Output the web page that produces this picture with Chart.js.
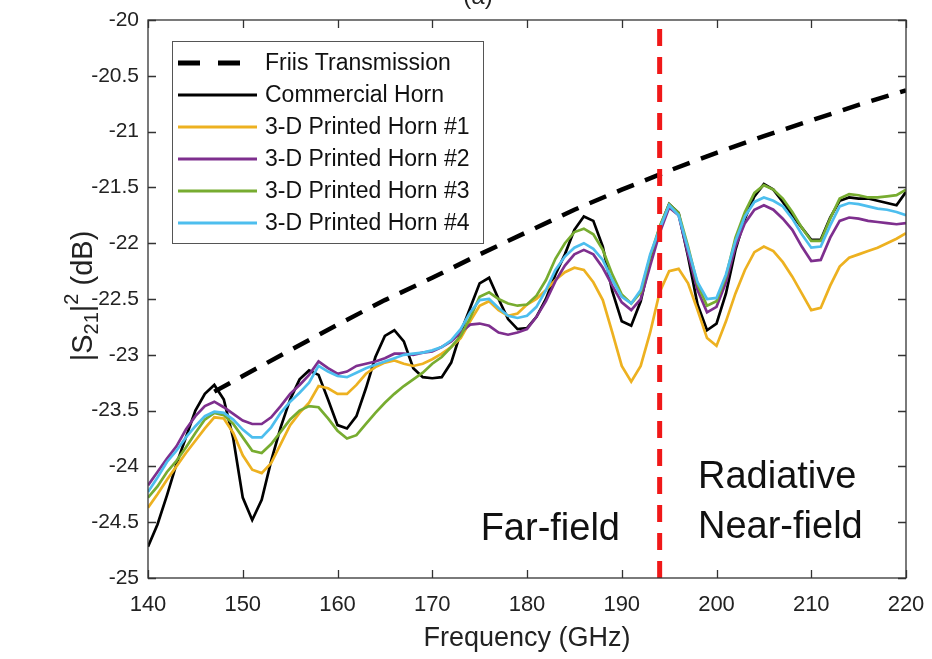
<!DOCTYPE html>
<html>
<head>
<meta charset="utf-8">
<script src="https://cdn.jsdelivr.net/npm/chart.js@4.4.1/dist/chart.umd.min.js"></script>
<style>
  html, body { margin: 0; padding: 0; background: #fff; }
  #wrap { position: relative; width: 932px; height: 659px; }
</style>
</head>
<body>
<div id="wrap"><canvas id="s21Chart"></canvas></div>
<script>
// Frequency grid (GHz) shared by the measured curves
const freqGHz = [140,141,142,143,144,145,146,147,148,149,150,151,152,153,154,155,156,157,158,159,
  160,161,162,163,164,165,166,167,168,169,170,171,172,173,174,175,176,177,178,179,
  180,181,182,183,184,185,186,187,188,189,190,191,192,193,194,195,196,197,198,199,
  200,201,202,203,204,205,206,207,208,209,210,211,212,213,214,215,216,217,218,219,220];

const commercialHorn = [-24.72,-24.52,-24.26,-23.98,-23.74,-23.50,-23.35,-23.27,-23.40,-23.75,
  -24.28,-24.48,-24.30,-23.95,-23.65,-23.40,-23.22,-23.14,-23.18,-23.40,
  -23.63,-23.66,-23.55,-23.30,-23.02,-22.83,-22.78,-22.88,-23.12,-23.20,
  -23.21,-23.20,-23.07,-22.80,-22.58,-22.36,-22.31,-22.50,-22.68,-22.77,
  -22.76,-22.66,-22.50,-22.28,-22.10,-21.88,-21.76,-21.80,-22.03,-22.43,
  -22.70,-22.74,-22.52,-22.15,-21.86,-21.65,-21.73,-22.12,-22.55,-22.78,
  -22.72,-22.45,-22.06,-21.78,-21.58,-21.47,-21.52,-21.63,-21.75,-21.86,
  -21.97,-21.97,-21.77,-21.62,-21.59,-21.60,-21.60,-21.62,-21.64,-21.66,-21.54];

const printedHorn1 = [-24.37,-24.25,-24.12,-24.00,-23.88,-23.77,-23.66,-23.56,-23.57,-23.70,
  -23.90,-24.03,-24.06,-23.97,-23.80,-23.63,-23.52,-23.43,-23.28,-23.30,
  -23.35,-23.35,-23.27,-23.17,-23.11,-23.07,-23.05,-23.08,-23.10,-23.08,
  -23.04,-22.99,-22.93,-22.85,-22.70,-22.56,-22.52,-22.60,-22.65,-22.63,
  -22.55,-22.50,-22.42,-22.33,-22.26,-22.22,-22.24,-22.35,-22.51,-22.80,
  -23.10,-23.24,-23.10,-22.80,-22.44,-22.25,-22.23,-22.36,-22.60,-22.85,
  -22.92,-22.70,-22.45,-22.24,-22.08,-22.03,-22.07,-22.17,-22.30,-22.45,
  -22.60,-22.58,-22.38,-22.21,-22.13,-22.10,-22.07,-22.04,-22.00,-21.96,-21.91];

const printedHorn2 = [-24.17,-24.05,-23.93,-23.82,-23.67,-23.55,-23.46,-23.42,-23.47,-23.53,
  -23.59,-23.62,-23.62,-23.56,-23.46,-23.35,-23.27,-23.18,-23.06,-23.12,
  -23.17,-23.15,-23.10,-23.08,-23.06,-23.03,-22.99,-22.99,-23.00,-22.98,
  -22.97,-22.93,-22.88,-22.80,-22.73,-22.72,-22.74,-22.80,-22.82,-22.80,
  -22.77,-22.66,-22.52,-22.34,-22.20,-22.10,-22.06,-22.10,-22.22,-22.38,
  -22.53,-22.60,-22.50,-22.20,-21.91,-21.68,-21.75,-22.10,-22.42,-22.62,
  -22.57,-22.35,-22.03,-21.82,-21.70,-21.66,-21.70,-21.78,-21.88,-22.03,
  -22.16,-22.15,-21.95,-21.80,-21.77,-21.78,-21.80,-21.81,-21.82,-21.83,-21.82];

const printedHorn3 = [-24.28,-24.18,-24.05,-23.95,-23.83,-23.70,-23.58,-23.52,-23.54,-23.62,
  -23.74,-23.86,-23.88,-23.80,-23.69,-23.58,-23.50,-23.46,-23.47,-23.57,
  -23.68,-23.75,-23.72,-23.62,-23.52,-23.43,-23.35,-23.28,-23.22,-23.16,
  -23.08,-23.02,-22.93,-22.83,-22.67,-22.48,-22.44,-22.50,-22.54,-22.56,
  -22.55,-22.47,-22.33,-22.14,-22.00,-21.90,-21.87,-21.92,-22.06,-22.28,
  -22.46,-22.54,-22.44,-22.12,-21.85,-21.65,-21.73,-22.03,-22.37,-22.56,
  -22.52,-22.30,-21.95,-21.72,-21.55,-21.48,-21.52,-21.60,-21.72,-21.86,
  -21.98,-21.98,-21.78,-21.60,-21.56,-21.57,-21.59,-21.59,-21.58,-21.57,-21.52];

const printedHorn4 = [-24.23,-24.10,-23.96,-23.86,-23.74,-23.64,-23.55,-23.51,-23.52,-23.58,
  -23.67,-23.74,-23.74,-23.65,-23.52,-23.42,-23.34,-23.25,-23.10,-23.15,
  -23.19,-23.20,-23.16,-23.12,-23.09,-23.06,-23.03,-23.00,-22.99,-22.98,
  -22.96,-22.93,-22.87,-22.77,-22.62,-22.51,-22.50,-22.58,-22.65,-22.67,
  -22.65,-22.57,-22.42,-22.24,-22.12,-22.04,-22.00,-22.05,-22.15,-22.33,
  -22.48,-22.54,-22.42,-22.10,-21.87,-21.66,-21.75,-22.05,-22.35,-22.50,
  -22.49,-22.28,-21.98,-21.76,-21.63,-21.59,-21.62,-21.67,-21.78,-21.92,
  -22.04,-22.03,-21.84,-21.67,-21.64,-21.65,-21.67,-21.69,-21.70,-21.72,-21.75];

// Friis prediction (dashed)
const friisFreq = [147,150,155,160,165,170,175,180,185,190,195,200,205,210,215,220];
const friisDb = [-23.33,-23.19,-22.96,-22.73,-22.51,-22.31,-22.10,-21.90,-21.70,-21.52,-21.35,-21.19,-21.04,-20.90,-20.76,-20.63];

// far-field / near-field boundary
const boundaryFreq = [194, 194];
const boundaryDb = [-25, -20];

const seriesNames = ["Friis Transmission", "Commercial Horn", "3-D Printed Horn #1",
  "3-D Printed Horn #2", "3-D Printed Horn #3", "3-D Printed Horn #4"];
const seriesColors = ["#000000", "#000000", "#EDB120", "#7E2F8E", "#77AC30", "#4DBEEE"];

const FONT = "'Liberation Sans', Arial, sans-serif";
const toPts = (xs, ys) => xs.map((x, i) => ({ x: x, y: ys[i] }));

// box, inward ticks on all four sides
const frameBox = {
  id: "frameBox",
  afterDraw(chart) {
    const { ctx, chartArea: a, scales: { x, y } } = chart;
    ctx.save();
    ctx.strokeStyle = "#333";
    ctx.lineWidth = 1.3;
    ctx.beginPath();
    x.ticks.forEach(t => {
      const px = Math.round(x.getPixelForValue(t.value)) + 0.5;
      ctx.moveTo(px, a.bottom); ctx.lineTo(px, a.bottom - 8);
      ctx.moveTo(px, a.top); ctx.lineTo(px, a.top + 8);
    });
    y.ticks.forEach(t => {
      const py = Math.round(y.getPixelForValue(t.value)) + 0.5;
      ctx.moveTo(a.left, py); ctx.lineTo(a.left + 8, py);
      ctx.moveTo(a.right, py); ctx.lineTo(a.right - 8, py);
    });
    ctx.stroke();
    ctx.strokeRect(a.left, a.top, a.right - a.left, a.bottom - a.top);
    ctx.restore();
  }
};

// legend box in the upper left, region labels, y title
const decorations = {
  id: "decorations",
  afterDraw(chart) {
    const { ctx } = chart;
    ctx.save();

    // legend
    ctx.fillStyle = "#fff";
    ctx.fillRect(172, 41, 311, 202);
    ctx.strokeStyle = "#555";
    ctx.lineWidth = 1;
    ctx.strokeRect(172.5, 41.5, 311, 202);
    ctx.font = "23px " + FONT;
    ctx.textBaseline = "middle";
    ctx.textAlign = "left";
    seriesNames.forEach((name, i) => {
      const yy = 63 + i * 32;
      ctx.strokeStyle = seriesColors[i];
      ctx.beginPath();
      if (i === 0) {
        ctx.lineWidth = 5;
        ctx.moveTo(178, yy); ctx.lineTo(200, yy);
        ctx.moveTo(218, yy); ctx.lineTo(240, yy);
      } else {
        ctx.lineWidth = 2.8;
        ctx.moveTo(178, yy); ctx.lineTo(257, yy);
      }
      ctx.stroke();
      ctx.fillStyle = "#111";
      ctx.fillText(name, 265, yy + 1);
    });

    // region labels
    ctx.fillStyle = "#111";
    ctx.font = "38px " + FONT;
    ctx.textAlign = "right";
    ctx.fillText("Far-field", 620, 530);
    ctx.textAlign = "left";
    ctx.fillText("Radiative", 698, 478);
    ctx.fillText("Near-field", 698, 528);

    // partial panel title
    ctx.font = "24px " + FONT;
    ctx.textAlign = "center";
    ctx.textBaseline = "alphabetic";
    ctx.fillStyle = "#222";
    ctx.fillText("(a)", 478, 4);

    // y axis title: |S21|^2 (dB)
    const parts = [
      { t: "|S", s: 29, dy: 0 },
      { t: "21", s: 20, dy: 8 },
      { t: "|", s: 29, dy: 0 },
      { t: "2", s: 20, dy: -12 },
      { t: " (dB)", s: 29, dy: 0 }
    ];
    let total = 0;
    parts.forEach(p => { ctx.font = p.s + "px " + FONT; p.w = ctx.measureText(p.t).width; total += p.w; });
    ctx.translate(84, 296);
    ctx.rotate(-Math.PI / 2);
    ctx.textAlign = "left";
    ctx.textBaseline = "middle";
    ctx.fillStyle = "#222";
    let cx = -total / 2;
    parts.forEach(p => {
      ctx.font = p.s + "px " + FONT;
      ctx.fillText(p.t, cx, p.dy);
      cx += p.w;
    });
    ctx.restore();
  }
};

const ctx = document.getElementById("s21Chart").getContext("2d");
new Chart(ctx, {
  type: "line",
  data: {
    datasets: [
      { label: "Boundary", data: toPts(boundaryFreq, boundaryDb), borderColor: "#F01818",
        borderWidth: 5, borderDash: [17, 11], order: 0 },
      { label: seriesNames[5], data: toPts(freqGHz, printedHorn4), borderColor: seriesColors[5], borderWidth: 2.7, order: 1 },
      { label: seriesNames[4], data: toPts(freqGHz, printedHorn3), borderColor: seriesColors[4], borderWidth: 2.7, order: 2 },
      { label: seriesNames[3], data: toPts(freqGHz, printedHorn2), borderColor: seriesColors[3], borderWidth: 2.7, order: 3 },
      { label: seriesNames[2], data: toPts(freqGHz, printedHorn1), borderColor: seriesColors[2], borderWidth: 2.7, order: 4 },
      { label: seriesNames[1], data: toPts(freqGHz, commercialHorn), borderColor: seriesColors[1], borderWidth: 2.7, order: 5 },
      { label: seriesNames[0], data: toPts(friisFreq, friisDb), borderColor: seriesColors[0],
        borderWidth: 4.5, borderDash: [18, 12], order: 6 }
    ]
  },
  options: {
    responsive: true,
    maintainAspectRatio: false,
    animation: false,
    devicePixelRatio: 1,
    layout: { padding: { left: 0, right: 26, top: 20, bottom: 0 } },
    elements: { point: { radius: 0 }, line: { tension: 0, fill: false } },
    plugins: { legend: { display: false }, tooltip: { enabled: false } },
    scales: {
      x: {
        type: "linear", min: 140, max: 220,
        afterFit: s => { s.height = 81; s.paddingLeft = 0; s.paddingRight = 0; },
        grid: { display: false, drawTicks: false },
        border: { display: false },
        title: { display: true, text: "Frequency (GHz)", color: "#222",
          font: { family: FONT, size: 27 }, padding: { top: 0, bottom: 4 } },
        ticks: { stepSize: 10, padding: 14, color: "#222", font: { family: FONT, size: 22 } }
      },
      y: {
        type: "linear", min: -25, max: -20,
        afterFit: s => { s.width = 148; s.paddingTop = 0; s.paddingBottom = 0; },
        grid: { display: false, drawTicks: false },
        border: { display: false },
        ticks: { stepSize: 0.5, padding: 9, color: "#222", font: { family: FONT, size: 21 },
          callback: v => String(v) }
      }
    }
  },
  plugins: [frameBox, decorations]
});
</script>
</body>
</html>
